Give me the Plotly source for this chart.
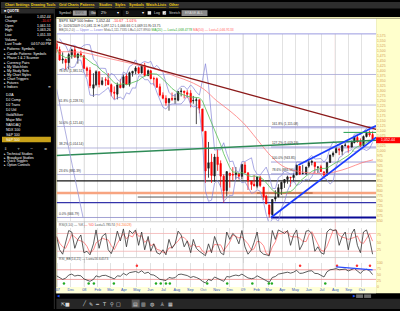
import plotly.graph_objects as go
import pandas as pd

W, H = 400, 311
def px(x): return x / W
def py(y): return 1 - y / H

# ---------------- DATA ----------------
week_dates = [
"2007-10-29","2007-11-05","2007-11-12","2007-11-19","2007-11-26","2007-12-03","2007-12-10","2007-12-17","2007-12-24","2007-12-31",
"2008-01-07","2008-01-14","2008-01-22","2008-01-28","2008-02-04","2008-02-11","2008-02-19","2008-02-25","2008-03-03","2008-03-10",
"2008-03-17","2008-03-24","2008-03-31","2008-04-07","2008-04-14","2008-04-21","2008-04-28","2008-05-05","2008-05-12","2008-05-19",
"2008-05-27","2008-06-02","2008-06-09","2008-06-16","2008-06-23","2008-06-30","2008-07-07","2008-07-14","2008-07-21","2008-07-28",
"2008-08-04","2008-08-11","2008-08-18","2008-08-25","2008-09-02","2008-09-08","2008-09-15","2008-09-22","2008-09-29","2008-10-06",
"2008-10-13","2008-10-20","2008-10-27","2008-11-03","2008-11-10","2008-11-17","2008-11-24","2008-12-01","2008-12-08","2008-12-15",
"2008-12-22","2008-12-29","2009-01-05","2009-01-12","2009-01-20","2009-01-26","2009-02-02","2009-02-09","2009-02-17","2009-02-23",
"2009-03-02","2009-03-09","2009-03-16","2009-03-23","2009-03-30","2009-04-06","2009-04-13","2009-04-20","2009-04-27","2009-05-04",
"2009-05-11","2009-05-18","2009-05-26","2009-06-01","2009-06-08","2009-06-15","2009-06-22","2009-06-29","2009-07-06","2009-07-13",
"2009-07-20","2009-07-27","2009-08-03","2009-08-10","2009-08-17","2009-08-24","2009-08-31","2009-09-08","2009-09-14","2009-09-21",
"2009-09-28","2009-10-05","2009-10-12","2009-10-19","2009-10-26"]

opens = [
1535.3,1505.6,1453.7,1456.7,1440.7,1479.6,1505.1,1465.1,1484.6,1475.2,
1414.1,1402.9,1312.9,1330.7,1395.4,1331.9,1355.9,1352.8,1330.5,1293.2,
1283.2,1330.3,1315.9,1373.7,1332.2,1387.7,1398.0,1415.3,1389.4,1425.3,
1376.0,1399.6,1360.8,1360.5,1319.8,1278.1,1262.9,1241.6,1261.8,1257.8,
1253.3,1296.3,1298.1,1290.5,1287.8,1249.5,1250.9,1255.4,1209.1,1097.6,
912.8,943.5,874.3,968.7,936.8,873.2,801.2,888.6,882.7,881.1,
887.2,872.4,929.2,890.4,849.6,832.5,823.1,868.2,818.6,773.3,
729.6,680.8,758.8,771.0,809.1,839.8,856.9,868.3,866.2,879.2,
923.0,886.1,887.0,923.3,942.5,942.5,918.1,919.9,894.3,879.6,
942.1,978.6,990.2,1008.9,998.2,1026.6,1025.2,1018.7,1040.2,1066.6,
1045.4,1026.9,1071.6,1088.2,1081.1]

highs = [
1552.8,1520.7,1492.1,1460.4,1488.9,1510.6,1523.6,1485.4,1500.5,1475.8,
1421.0,1418.3,1387.7,1402.7,1396.0,1367.9,1367.3,1388.3,1336.4,1321.7,
1341.5,1359.7,1380.9,1386.7,1395.9,1399.1,1422.7,1419.9,1425.9,1440.2,
1406.3,1404.1,1370.6,1366.6,1335.6,1292.2,1277.4,1262.3,1291.2,1284.4,
1297.9,1313.2,1300.2,1303.0,1303.0,1274.4,1265.1,1255.4,1209.1,1097.6,
1044.3,985.4,984.4,1007.5,952.0,882.3,896.3,888.6,918.6,918.9,
887.4,934.7,943.9,890.4,849.6,877.9,870.7,875.0,818.6,780.1,
729.6,758.3,803.0,833.0,845.6,856.9,875.6,868.3,888.7,930.2,
923.0,930.2,919.1,951.7,956.2,942.5,922.0,930.2,898.7,944.0,
979.8,996.7,1018.0,1013.1,1027.6,1039.5,1025.2,1049.0,1074.8,1080.2,
1062.0,1076.8,1096.6,1101.4,1097.1]

lows = [
1489.6,1450.3,1435.7,1406.1,1406.7,1460.7,1467.4,1435.6,1467.0,1411.2,
1370.6,1313.2,1270.1,1322.4,1316.8,1326.6,1324.3,1330.2,1272.7,1257.0,
1257.0,1312.3,1312.8,1331.5,1321.2,1370.8,1383.1,1384.1,1386.0,1373.1,
1373.1,1358.0,1326.4,1314.5,1272.0,1257.6,1225.4,1200.4,1248.6,1234.4,
1247.5,1271.9,1261.8,1263.2,1217.2,1235.0,1133.5,1187.3,1097.6,839.8,
865.8,839.8,845.3,899.7,818.7,741.0,772.6,815.7,851.4,857.7,
857.1,857.3,888.3,804.3,804.5,821.7,812.0,818.4,754.3,734.5,
666.8,672.9,747.0,767.6,779.8,814.5,835.6,821.0,843.6,878.9,
878.9,882.5,879.6,915.3,927.3,888.9,888.9,894.3,869.3,875.3,
940.4,968.6,990.2,978.5,978.5,1021.6,991.0,1017.9,1038.2,1041.2,
1020.0,1026.9,1066.7,1070.2,1051.3]

closes = [
1509.7,1453.7,1458.7,1440.7,1481.1,1504.7,1468.0,1484.5,1478.5,1411.6,
1401.0,1325.2,1330.6,1395.4,1331.3,1350.0,1353.1,1330.6,1293.4,1288.1,
1329.5,1315.2,1370.4,1332.8,1390.3,1397.8,1413.9,1388.3,1425.4,1375.9,
1400.4,1360.7,1360.0,1317.9,1278.4,1262.9,1239.5,1260.7,1257.8,1260.3,
1296.3,1298.2,1292.2,1282.8,1242.3,1251.7,1255.1,1213.3,1099.2,899.2,
940.6,876.8,968.8,931.0,873.3,800.0,896.2,876.1,879.7,887.9,
872.8,931.8,890.4,850.1,832.0,825.9,868.6,826.8,770.1,735.1,
683.4,756.6,768.5,815.9,842.5,856.6,869.6,866.2,877.5,929.2,
882.9,887.0,919.1,940.1,946.2,921.2,918.9,896.4,879.1,940.4,
979.3,987.5,1010.5,1004.1,1026.1,1028.9,1016.4,1042.7,1068.3,1044.4,
1025.2,1071.5,1087.7,1079.6,1052.4]

ma_long_dates = ["2007-11-01","2007-12-01","2008-01-01","2008-02-01","2008-03-01","2008-04-01",
                 "2008-05-01","2008-06-01","2008-07-01","2008-08-01","2008-09-01","2008-10-01",
                 "2008-11-01","2008-12-01","2009-01-01","2009-02-01","2009-03-01","2009-04-01",
                 "2009-05-01","2009-06-01","2009-07-01","2009-08-01","2009-09-01","2009-10-01","2009-10-27"]
ma_long_vals = [1495,1495,1490,1475,1460,1445,1430,1415,1395,1370,1345,1310,
                1250,1200,1140,1060,985,925,900,890,885,895,915,940,955]

osc_k = [
70,25,10,55,90,85,30,60,75,15,
20,8,45,92,30,70,80,25,12,40,
88,55,95,35,90,80,92,40,85,25,
70,20,45,15,10,25,8,60,30,45,
88,75,35,55,15,60,30,20,12,5,
45,15,70,40,15,8,85,60,80,70,
45,90,35,10,25,50,85,20,10,8,
5,90,60,92,85,80,90,40,75,92,
25,45,88,90,80,20,35,15,10,85,
95,90,92,40,70,85,25,80,95,40,
15,85,92,60,10]

rsi_bb = [
45,38,30,35,48,52,44,47,45,32,
28,22,30,45,40,46,47,42,35,32,
45,43,55,48,58,60,63,58,66,55,
60,50,48,40,30,28,25,38,35,37,
50,52,48,46,38,42,38,32,22,15,
30,25,40,35,30,22,42,40,45,48,
45,52,44,36,33,35,45,38,28,22,
18,38,42,52,55,58,60,56,60,68,
55,56,62,65,66,55,54,48,40,62,
70,72,75,70,72,73,65,70,76,65,
55,68,72,66,50]

green_dot_dates = ["2007-11-15","2008-01-11","2008-01-23","2008-03-09","2008-06-14","2008-06-25",
                   "2008-07-07","2008-07-16","2008-10-10","2008-11-25","2009-01-22","2009-03-01",
                   "2009-03-08","2009-07-09"]
red_dot_dates = ["2008-05-01","2009-05-12","2009-08-05","2009-09-20","2009-10-20"]

x_tick_dates = ["2007-11-01","2007-12-01","2008-01-01","2008-02-01","2008-03-01","2008-04-01",
                "2008-05-01","2008-06-01","2008-07-01","2008-08-01","2008-09-01","2008-10-01",
                "2008-11-01","2008-12-01","2009-01-01","2009-02-01","2009-03-01","2009-04-01",
                "2009-05-01","2009-06-01","2009-07-01","2009-08-01","2009-09-01","2009-10-01"]
x_tick_text = ["07","Dec","08","Feb","Mar","Apr","May","Jun","Jul","Aug","Sep","Oct",
               "Nov","Dec","09","Feb","Mar","Apr","May","Jun","Jul","Aug","Sep","Oct"]

# 1,050 sits under the red last-price box, as in the reference
price_ticks = [v for v in range(650, 1576, 25) if v != 1050]
price_tick_text = [f"{v:,}" for v in price_ticks]

fib_levels = [1381.51, 1228.74, 1121.44, 1014.14, 881.39]
fib_labels = ["78.6% (1,381.51)", "61.8% (1,228.74)", "50.0% (1,121.44)", "38.2% (1,014.14)", "23.6% (881.39)"]
ext_levels = [1115.08, 1019.19, 943.85, 884.56]
ext_labels = ["161.8% (1,115.08)", "127.2% (1,019.19)", "100.0% (943.85)", "78.6% (884.56)"]
low_2009 = 666.79
last_price = 1052.44

X0, X1 = "2007-10-29", "2009-11-03"

# ---------------- derived indicators ----------------
s = pd.Series(closes)
bb_mid = s.rolling(4, min_periods=2).mean()
bb_sd = s.rolling(4, min_periods=2).std()
bb_up = bb_mid + 2 * bb_sd
bb_lo = bb_mid - 2 * bb_sd
ma_short = s.rolling(10, min_periods=1).mean()
osc_d = pd.Series(osc_k).rolling(3, min_periods=1).mean()

FONT = "Liberation Sans"
fig = go.Figure()

fig.add_trace(go.Candlestick(
    x=week_dates, open=opens, high=highs, low=lows, close=closes,
    increasing=dict(line=dict(color="#1a1a1a", width=0.8), fillcolor="#1a1a1a"),
    decreasing=dict(line=dict(color="#ff0000", width=0.8), fillcolor="#ff0000"),
    whiskerwidth=0, xaxis="x", yaxis="y", hoverinfo="skip"))
fig.add_trace(go.Scatter(x=week_dates, y=bb_up, mode="lines", line=dict(color="#8484d8", width=0.7), yaxis="y"))
fig.add_trace(go.Scatter(x=week_dates, y=bb_lo, mode="lines", line=dict(color="#8484d8", width=0.7), yaxis="y"))
fig.add_trace(go.Scatter(x=week_dates, y=ma_short, mode="lines", line=dict(color="#55c055", width=0.8), yaxis="y"))
fig.add_trace(go.Scatter(x=ma_long_dates, y=ma_long_vals, mode="lines", line=dict(color="#ff7a7a", width=0.8, shape="spline"), yaxis="y"))

fig.add_trace(go.Scatter(x=week_dates, y=osc_d, mode="lines", line=dict(color="#ff7070", width=0.8), yaxis="y2"))
fig.add_trace(go.Scatter(x=week_dates, y=osc_k, mode="lines", line=dict(color="#333333", width=0.8), yaxis="y2"))

fig.add_trace(go.Scatter(x=week_dates, y=rsi_bb, mode="lines", line=dict(color="#333333", width=0.8), yaxis="y3"))
fig.add_trace(go.Scatter(x=green_dot_dates, y=[13] * len(green_dot_dates), mode="markers",
                         marker=dict(color="#22aa22", size=2.5), yaxis="y3"))
fig.add_trace(go.Scatter(x=red_dot_dates, y=[87] * len(red_dot_dates), mode="markers",
                         marker=dict(color="#ff3333", size=2.5), yaxis="y3"))

shapes = []
def prect(x0, y0, x1, y1, color, layer="below"):
    shapes.append(dict(type="rect", xref="paper", yref="paper", x0=px(x0), x1=px(x1), y0=py(y1), y1=py(y0),
                       fillcolor=color, line=dict(width=0), layer=layer))
def pline(x0, y0, x1, y1, color, w=1, layer="above"):
    shapes.append(dict(type="line", xref="paper", yref="paper", x0=px(x0), x1=px(x1), y0=py(y0), y1=py(y1),
                       line=dict(color=color, width=w), layer=layer))
def dline(xa, ya, xb, yb, color, w=1, yref="y", layer="between", dash=None):
    ln = dict(color=color, width=w)
    if dash: ln["dash"] = dash
    shapes.append(dict(type="line", xref="x", yref=yref, x0=xa, x1=xb, y0=ya, y1=yb, line=ln, layer=layer))

# backgrounds
prect(0, 0, 400, 6.7, "#2d2d2d")
prect(55.5, 16.7, 376, 295, "#ffffff")
prect(376, 16.7, 400, 295, "#ffffcc")
prect(55.5, 288.6, 376, 295, "#ffffd8")
prect(55.5, 15.3, 400, 16.7, "#e8e6b0")
prect(0, 7, 53, 11.6, "#2a2a2a")
prect(1, 136.6, 50, 142, "#c9a21a")
prect(53, 7, 53.8, 311, "#3a3a3a")
prect(55, 16.7, 55.7, 295, "#d8d49a")
prect(55.5, 300.5, 400, 311, "#262626")
prect(356, 296.2, 363, 299.8, "#6a6a6a")
prect(364, 296.2, 371, 299.8, "#6a6a6a")
prect(131, 301.5, 139, 309.5, "#5a5a5a")
# toolbar controls
prect(72, 8.6, 86, 13.8, "#9a9a9a")
prect(88, 8.6, 95, 13.8, "#444444")
prect(97, 8.3, 120, 14.2, "#111111")
prect(122, 8.3, 145, 14.2, "#111111")
prect(147, 9.3, 150.5, 12.8, "#eeeeee")
prect(162, 9.3, 165.5, 12.8, "#eeeeee")
prect(181, 8.3, 207, 14.2, "#8a8a8a")
# panel separators & borders
pline(55.7, 32.3, 376, 32.3, "#9a9ae0", 1)
pline(55.7, 222.6, 376, 222.6, "#c8c8c8", 0.8)
pline(55.7, 258.9, 376, 258.9, "#c8c8c8", 0.8)

# special vertical lines
for d in ["2008-01-01", "2009-01-01"]:
    shapes.append(dict(type="line", xref="x", yref="paper", x0=d, x1=d, y0=py(288.3), y1=py(32.3),
                       line=dict(color="#b4b4b4", width=0.8), layer="between"))
shapes.append(dict(type="line", xref="x", yref="paper", x0="2009-08-01", x1="2009-08-01", y0=py(288.3), y1=py(32.3),
                   line=dict(color="#f2c4c4", width=1), layer="between"))

# horizontal levels on main chart
for lv in fib_levels:
    dline(X0, lv, X1, lv, "#a4a4d4", 0.8)
for lv in ext_levels:
    dline("2009-03-06", lv, X1, lv, "#8c8cd0", 0.8)
dline(X0, low_2009, X1, low_2009, "#8a8ac8", 0.8)
dline("2009-03-06", low_2009, X1, low_2009, "#0a0a96", 2)
dline(X0, 850, X1, 850, "#151515", 1.2)
dline(X0, 789, X1, 789, "#f7a480", 2.5)
dline("2009-02-01", 789, "2009-06-10", 789, "#a0522d", 1)
dline("2008-05-03", 769, X1, 769, "#555555", 1)
dline(X0, 741, X1, 741, "#3434aa", 1.2)
# trend lines
dline(X0, 1546, X1, 1107, "#8b1a1a", 1.3, layer="above")
dline(X0, 976, X1, 1052.5, "#2e8b57", 1.5, layer="above")
dline(X0, 1309, "2007-12-29", 667, "#9a9ad8", 0.8, layer="above")
dline("2009-03-06", low_2009, X1, 1067, "#1a3cff", 1.8, layer="above")
dline("2009-05-08", 929, X1, 1125, "#1a3cff", 1.8, layer="above")
dline("2009-08-20", 1092, X1, 1092, "#22a050", 1, layer="above")
# panel levels
dline(X0, 80, X1, 80, "#f3b2b2", 0.8, yref="y2")
dline(X0, 20, X1, 20, "#f3b2b2", 0.8, yref="y2")
dline(X0, 70, X1, 70, "#f08a8a", 0.8, yref="y3")
dline(X0, 30, X1, 30, "#f08a8a", 0.8, yref="y3")
dline("2009-08-03", 82, "2009-10-26", 70, "#2a4cff", 1.2, yref="y3", layer="above")
# last price box
shapes.append(dict(type="rect", xref="paper", yref="y", x0=px(376), x1=px(400),
                   y0=last_price - 15, y1=last_price + 15, fillcolor="#ff0000", line=dict(width=0), layer="above"))

ann = []
def txt(x, y, s, color="#ffffff", size=3.6, anchor="left", yref="paper", yanchor="middle", family=FONT):
    ann.append(dict(xref="paper", yref=yref, x=px(x), y=(py(y) if yref == "paper" else y), text=s,
                    showarrow=False, xanchor=anchor, yanchor=yanchor, borderpad=0,
                    font=dict(color=color, size=size, family=family)))

# menu bar
for label, x in [("Chart Settings", 3), ("Drawing Tools", 29.5), ("Grid Charts", 57), ("Patterns", 78),
                 ("Studies", 97), ("Styles", 113), ("Symbols", 127.5), ("Watch-Lists", 144), ("Other", 167.5)]:
    txt(x, 3.4, f"<b><u>{label}</u></b>", "#f0cc10", 3.6)
# toolbar
txt(57, 11.2, "Symbol:", "#dddddd", 3.5)
txt(73, 11.2, "$SPX", "#555555", 3.5)
txt(89, 11.2, "Go", "#ffffff", 3.5)
txt(99, 11.2, "2Yr", "#ffffff", 3.5)
txt(119, 11.2, "▾", "#ffffff", 3.5, anchor="right")
txt(124, 11.2, "D", "#ffffff", 3.5)
txt(144, 11.2, "▾", "#ffffff", 3.5, anchor="right")
txt(152, 11.2, "Log", "#dddddd", 3.5)
txt(162.7, 11.0, "✓", "#000000", 3.2, family="DejaVu Sans")
txt(167, 11.2, "Stretch", "#dddddd", 3.5)
txt(183, 11.2, "ERASE ALL", "#dddddd", 3.3)

# left panel
txt(2, 9.3, "<b>■ QUOTE</b>", "#ffffff", 3.4)
for (lab, val, vc), y in zip([("Last", "1,052.44", "#ffffff"), ("Change", "-10.67", "#ff3030"),
                              ("Open", "1,061.51", "#ffffff"), ("High", "1,063.26", "#ffffff"),
                              ("Low", "1,051.33", "#ffffff"), ("Volume", "n/a", "#ffffff"),
                              ("Last Trade", "04:57:00 PM", "#ffffff")],
                             [14.7, 19.3, 24, 28.7, 33.3, 38, 42.7]):
    txt(3, y, lab, "#ffffff", 3.5)
    txt(51, y, val, vc, 3.5, anchor="right")
for lab, y in zip(["Patterns: Symbols", "Candle Patterns: Symbols", "Phase 1 & 2 Scanner", "Currency Pairs",
                   "My Watchlists", "My Study Sets", "My Chart Styles", "Chart Triggers", "Futures"],
                  [47.7, 52.3, 57, 61.7, 66, 70, 74, 78, 82]):
    txt(2, y, "▸ " + lab, "#ffffff", 3.4)
txt(2, 86, "▾ Indices", "#ffffff", 3.4)
txt(51, 86, "≡", "#ffffff", 3.4, anchor="right", family="DejaVu Sans")
for i, lab in enumerate(["DJIA", "DJ Comp", "DJ Trans", "DJ Util", "Gold/Silver", "Major Mkt",
                         "NASDAQ", "NDX 100", "S&P 100", "S&P 500"]):
    txt(4, 94.3 + 5 * i, lab, "#ffffff", 3.5)
for x, g in [(5, "⇕"), (18, "+"), (31, "−"), (45, "≡")]:
    txt(x, 148.5, g, "#dddddd", 3.8, anchor="center", family="DejaVu Sans")
for lab, y in zip(["Technical Studies", "Broadcast Studies", "Quick Toggles", "Option Controls"],
                  [154, 157.7, 161.3, 165]):
    txt(2, y, "▸ " + lab, "#ffffff", 3.3)

# chart header
txt(57, 19.5, "<span style='color:#222'>$SPX S&P 500 Index   1,052.44</span>   "
              "<span style='color:#ff2020'>-10.67  -1.01%</span>", "#222222", 3.6)
txt(57, 24.1, "D: 10/26/2009 O:1,081.11 H:1,097.12 L:1,066.66 C:1,069.55 Ri:13.75", "#333333", 3.3)
txt(57, 28.7, "<span style='color:#666'>BB(20,2.0)</span> <span style='color:#7e7ed8'>— Upper — Lower</span> "
              "<span style='color:#666'>Mid=1,111.7335 LB=1,027.8900</span> "
              "<span style='color:#33aa33'>MA(20) — Last=1,068.4778</span> "
              "<span style='color:#ff6a6a'>MA(50) — Last=1,046.9133</span>", "#666666", 3.3)
txt(57, 226.3, "<span style='color:#555'>RSI(3,10) — %K</span> <span style='color:#ff4040'>— %D</span> "
               "<span style='color:#555'>Last=5.78574</span> <span style='color:#ff8040'>(94.20028)</span>",
    "#555555", 3.3)
txt(57, 260.6, "RSI_BB(14,21) — Last=56.64573", "#555555", 3.3)

# fib labels
for lv, lab in zip(fib_levels, fib_labels):
    txt(57, lv + 4, lab, "#333333", 3.2, yref="y", yanchor="bottom")
txt(57, low_2009 + 4, "0.0% (666.79)", "#333333", 3.2, yref="y", yanchor="bottom")
for lv, lab in zip(ext_levels, ext_labels):
    txt(271, lv + 4, lab, "#333333", 3.2, yref="y", yanchor="bottom")

# last price label
txt(388, last_price, "1,052.44", "#ffffff", 3.6, anchor="center", yref="y")

# scrollbar / toolbar
txt(57.5, 298, "◀", "#2255ff", 3.5, anchor="center", family="DejaVu Sans")
txt(354, 298, "▶", "#2255ff", 3.5, anchor="center", family="DejaVu Sans")
for x, g in [(62, "⇱"), (67, "■"), (84, "╱"), (90, "✎"), (97, "━"), (104, "T"), (111, "⚲"), (118, "□"),
             (135, "▤"), (143, "▥"), (152, "◍"), (161, "♙"), (170, "▦")]:
    txt(x, 305.5, g, "#dddddd", 5, anchor="center", family="DejaVu Sans")

fig.update_layout(
    width=W, height=H, margin=dict(l=0, r=0, t=0, b=0),
    paper_bgcolor="#000000", plot_bgcolor="rgba(0,0,0,0)",
    showlegend=False, font=dict(family=FONT, size=4),
    shapes=shapes, annotations=ann,
    xaxis=dict(domain=[px(55.7), px(376)], range=[X0, X1], anchor="y3", type="date",
               tickvals=x_tick_dates, ticktext=x_tick_text, tickfont=dict(size=3.8, color="#2f55c0"),
               showgrid=True, gridcolor="#e2e2e2", gridwidth=0.6, zeroline=False, showline=False,
               ticks="", rangeslider=dict(visible=False), fixedrange=True),
    yaxis=dict(domain=[py(222.3), py(32.3)], range=[647, 1584.4], side="right", anchor="x",
               tickvals=price_ticks, ticktext=price_tick_text, tickfont=dict(size=3.4, color="#d49a55"),
               showgrid=False, zeroline=False, ticks=""),
    yaxis2=dict(domain=[py(258.5), py(228.5)], range=[0, 100], side="right", anchor="x",
                tickvals=[25, 50, 75], tickfont=dict(size=3.4, color="#d49a55"),
                showgrid=False, zeroline=False, ticks=""),
    yaxis3=dict(domain=[py(288.3), py(264)], range=[0, 100], side="right", anchor="x",
                tickvals=[0, 25, 50, 75, 100], tickfont=dict(size=3.4, color="#d49a55"),
                showgrid=False, zeroline=False, ticks=""),
)

fig.write_html("out.html")
